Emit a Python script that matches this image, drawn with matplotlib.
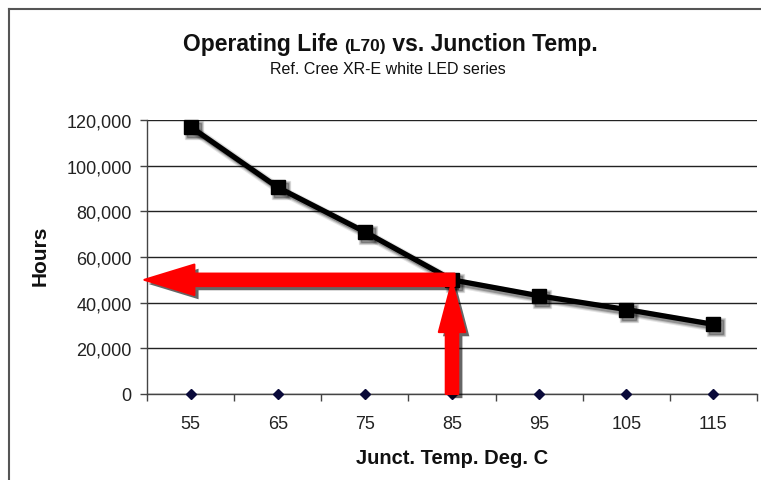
import matplotlib
matplotlib.use("Agg")
import matplotlib.pyplot as plt
import matplotlib.patheffects as pe
from matplotlib.transforms import offset_copy
from matplotlib.ticker import FuncFormatter, FixedLocator

plt.rcParams['font.family'] = ['Liberation Sans', 'DejaVu Sans']

temps = ["55", "65", "75", "85", "95", "105", "115"]
hours = [117000, 90500, 71000, 50000, 43000, 37000, 30500]
baseline = [0, 0, 0, 0, 0, 0, 0]
target_temp_index = 3
target_hours = 50000

title_main = "Operating Life "
title_small = "(L70)"
title_rest = " vs. Junction Temp."
subtitle = "Ref. Cree XR-E white LED series"
xlabel = "Junct. Temp. Deg. C"
ylabel = "Hours"

W, H = 761, 481
fig = plt.figure(figsize=(W / 100, H / 100), dpi=100)
ax = fig.add_axes([147 / W, 1 - 395 / H, (757 - 147) / W, (395 - 121) / H])

x = list(range(len(temps)))
ax.set_xlim(-0.5, len(temps) - 0.5)
ax.set_ylim(0, 120000)

# grid
ax.set_yticks(range(0, 120001, 20000))
ax.yaxis.set_major_formatter(FuncFormatter(lambda v, p: f"{int(v):,}"))
ax.grid(axis='y', color='#222222', linewidth=1.0)
ax.set_axisbelow(True)
for s in ['top', 'right']:
    ax.spines[s].set_visible(False)
for s in ['left', 'bottom']:
    ax.spines[s].set_color('#444444')
    ax.spines[s].set_linewidth(1.0)

ax.xaxis.set_major_locator(FixedLocator(x))
ax.set_xticklabels(temps)
ax.xaxis.set_minor_locator(FixedLocator([i - 0.5 for i in range(len(temps) + 1)]))
ax.tick_params(axis='x', which='major', length=0, pad=15, labelsize=13, labelcolor='#222222')
ax.tick_params(axis='x', which='minor', length=5, width=1, color='#444444', direction='out')
ax.tick_params(axis='y', length=5, width=1, color='#444444', pad=6, labelsize=13, labelcolor='#222222')

# baseline series
ax.plot(x, baseline, linestyle='none', marker='D', markersize=5, color='#0a0a3a', zorder=3, clip_on=False)

# main series shadow (offset copy) and line
sh_tr = offset_copy(ax.transData, fig=fig, x=3, y=-3, units='dots')
for lw, a in [(7, 0.10), (5.5, 0.15), (4, 0.25)]:
    ax.plot(x, hours, color='black', linewidth=lw, marker='s', markersize=10 + (lw - 4),
            alpha=a, transform=sh_tr, zorder=3.5, clip_on=False)
ax.plot(x, hours, color='black', linewidth=3.8, marker='s', markersize=10,
        zorder=4, clip_on=False)

# red arrows
ashadow = [pe.SimplePatchShadow(offset=(3, -3), shadow_rgbFace='#000000', alpha=0.6), pe.Normal()]
a1 = ax.annotate('', xy=(-0.53, target_hours), xytext=(target_temp_index + 0.03, target_hours),
                 annotation_clip=False,
                 arrowprops=dict(arrowstyle='simple,head_length=36,head_width=22,tail_width=9',
                                 mutation_scale=1, color='#ff0000', shrinkA=0, shrinkB=0,
                                 joinstyle='round', linewidth=1.5),
                 zorder=6)
a2 = ax.annotate('', xy=(target_temp_index, target_hours - 1000), xytext=(target_temp_index, 0),
                 annotation_clip=False,
                 arrowprops=dict(arrowstyle='simple,head_length=36,head_width=19,tail_width=9',
                                 mutation_scale=1, color='#ff0000', shrinkA=0, shrinkB=0,
                                 joinstyle='round', linewidth=1.5),
                 zorder=6)
a1.arrow_patch.set_path_effects(ashadow)
a2.arrow_patch.set_path_effects(ashadow)

# axis labels
fig.text(452 / W, 1 - 458 / H, xlabel, ha='center', va='center', fontsize=14.5, fontweight='bold', color='#111111')
fig.text(40 / W, 1 - 256 / H, ylabel, ha='center', va='center', rotation=90, fontsize=15, fontweight='bold', color='#111111')

# title in pieces
renderer = fig.canvas.get_renderer()
ybase = 1 - 51 / H
t1 = fig.text(0, ybase, title_main, fontsize=16.5, fontweight='bold', va='baseline', color='#111111')
t2 = fig.text(0, ybase, title_small, fontsize=12.5, fontweight='bold', va='baseline', color='#111111')
t3 = fig.text(0, ybase, title_rest, fontsize=16.5, fontweight='bold', va='baseline', color='#111111')
widths = [t.get_window_extent(renderer).width for t in (t1, t2, t3)]
total = sum(widths)
xstart = 390 - total / 2
cur = xstart
for t, w in zip((t1, t2, t3), widths):
    t.set_x(cur / W)
    cur += w
fig.text(388 / W, 1 - 70 / H, subtitle, ha='center', va='center', fontsize=11.5, color='#111111')

# frame lines
fig.add_artist(plt.Line2D([8.5 / W, 8.5 / W], [0, 1 - 10 / H], color='#555555', linewidth=1.5))
fig.add_artist(plt.Line2D([8.5 / W, 1], [1 - 10 / H, 1 - 10 / H], color='#555555', linewidth=1.5))

fig.savefig('out.png', dpi=100)
